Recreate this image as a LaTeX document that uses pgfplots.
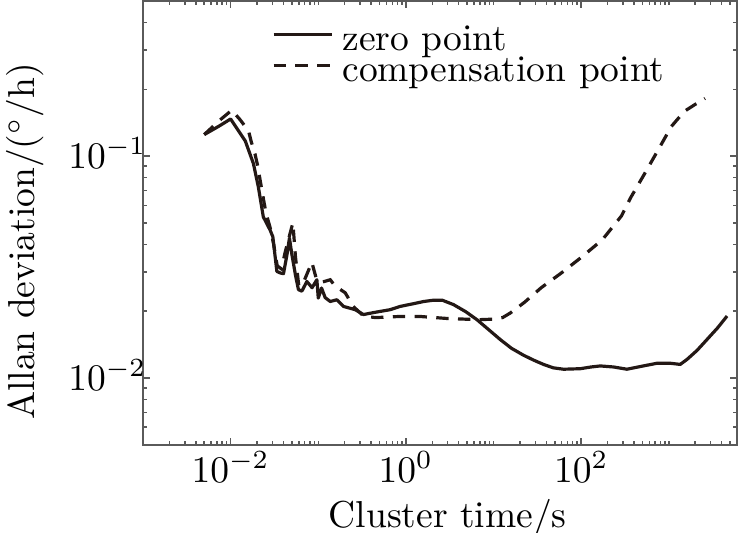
\documentclass[border=0pt]{standalone}
\usepackage{pgfplots}
\pgfplotsset{compat=1.18}
\definecolor{curvecol}{HTML}{231815}
\definecolor{axgray}{HTML}{5A5A5A}
\begin{document}
\begin{tikzpicture}
\begin{axis}[
  name=ax,
  scale only axis, width=158.4pt, height=118.3pt,
  xmode=log, ymode=log,
  xmin=1e-3, xmax=6000, ymin=0.005, ymax=0.5,
  xtick={1e-2,1,1e2}, ytick={1e-2,1e-1},
  minor xtick={2e-3,3e-3,4e-3,5e-3,6e-3,7e-3,8e-3,9e-3,
    2e-2,3e-2,4e-2,5e-2,6e-2,7e-2,8e-2,9e-2,1e-1,
    2e-1,3e-1,4e-1,5e-1,6e-1,7e-1,8e-1,9e-1,
    2,3,4,5,6,7,8,9,10,20,30,40,50,60,70,80,90,
    200,300,400,500,600,700,800,900,1000,2000,3000,4000,5000},
  minor ytick={6e-3,7e-3,8e-3,9e-3,2e-2,3e-2,4e-2,5e-2,6e-2,7e-2,8e-2,9e-2,2e-1,3e-1,4e-1},
  tick align=inside,
  xtick pos=both, ytick pos=both,
  major tick length=1.9pt, minor tick length=1.1pt,
  axis line style={color=axgray, line width=0.55pt},
  every tick/.style={color=axgray, line width=0.4pt},
  xticklabel style={yshift=1.7pt},
  yticklabel style={xshift=4.4pt, yshift=0.8pt},
  xlabel={Cluster time/s},
  ylabel={Allan deviation/$(^\circ/\mathrm{h})$},
  xlabel style={at={(axis description cs:0.513,0)}, anchor=base, yshift=-22.05pt, inner sep=0pt},
  ylabel style={at={(axis description cs:0,0.458)}, anchor=base, rotate=0, yshift=29.0pt, inner sep=0pt},
  legend style={draw=none, fill=none, at={(axis description cs:0.216,0.929)}, anchor=north west,
    inner sep=0pt, row sep=3.5pt, column sep=2.4pt,
    nodes={inner sep=0pt, text height=4.3pt, text depth=0pt}},
  legend cell align=left,
  legend image code/.code={\draw[#1] (0pt,2.1pt) -- (15.5pt,2.1pt);},
]
\addplot[curvecol, line width=0.85pt, line join=round] coordinates {
(0.005,0.125) (0.0075,0.137) (0.01,0.147) (0.0147,0.117) (0.0182,0.0925)
(0.0207,0.0727) (0.0236,0.0532) (0.0282,0.0464) (0.0303,0.0433) (0.0337,0.0302)
(0.037,0.0297) (0.0401,0.0295) (0.044,0.036) (0.0469,0.0427) (0.050,0.036)
(0.055,0.029) (0.0594,0.025) (0.065,0.0246) (0.0741,0.0272) (0.085,0.0255)
(0.0964,0.0277) (0.1,0.0229) (0.109,0.0254) (0.12,0.023) (0.137,0.0221)
(0.163,0.0225) (0.194,0.0210) (0.264,0.0203) (0.328,0.0193) (0.427,0.0197)
(0.662,0.0203) (0.86,0.0210) (1.22,0.0216) (1.6,0.0221) (2.07,0.0224) (2.6,0.0224)
(3.49,0.0214) (4.8,0.0199) (6.47,0.0183) (8.8,0.0165) (11.9,0.0149) (16,0.0136) (22,0.01265)
(29,0.0120) (37.2,0.0115) (48,0.0111) (63,0.01094) (97.7,0.0110) (130,0.0112) (165,0.01132)
(234,0.0112) (333,0.01094) (473,0.01125) (733,0.01164) (1040,0.01164)
(1350,0.0115) (1620,0.01213) (2100,0.0133) (2730,0.0149) (3600,0.0168) (4620,0.019)
};
\addlegendentry{zero point}
\addplot[curvecol, line width=0.85pt, dash pattern=on 3.3pt off 2.5pt] coordinates {
(0.005,0.125) (0.0075,0.145) (0.0103,0.161) (0.0128,0.146) (0.016,0.130)
(0.0172,0.116) (0.019,0.102) (0.0204,0.090) (0.0217,0.078) (0.0241,0.0616)
(0.0255,0.0548) (0.0282,0.0477) (0.031,0.040) (0.034,0.032) (0.038,0.031)
(0.042,0.037) (0.0513,0.050) (0.055,0.035) (0.060,0.026) (0.068,0.027)
(0.0845,0.0332) (0.095,0.028) (0.11,0.027) (0.137,0.0277) (0.155,0.026)
(0.203,0.0242) (0.25,0.021) (0.33,0.0190) (0.45,0.0187) (0.8,0.0189)
(1.5,0.0189) (2.95,0.01853) (6.8,0.0183) (10,0.0184) (12.7,0.0187)
(15.5,0.0196) (22.5,0.0219) (35,0.0255) (60,0.0298) (98,0.0347)
(174,0.0419) (288,0.0537) (370,0.0653) (525,0.0828) (760,0.107)
(1070,0.136) (1500,0.159) (2000,0.171) (2590,0.182)
};
\addlegendentry{compensation point}
\end{axis}
\pgfresetboundingbox
\path[use as bounding box] ([xshift=-38.13pt,yshift=-23.3pt]ax.south west) rectangle ([xshift=0.27pt,yshift=0.27pt]ax.north east);
\end{tikzpicture}
\end{document}
